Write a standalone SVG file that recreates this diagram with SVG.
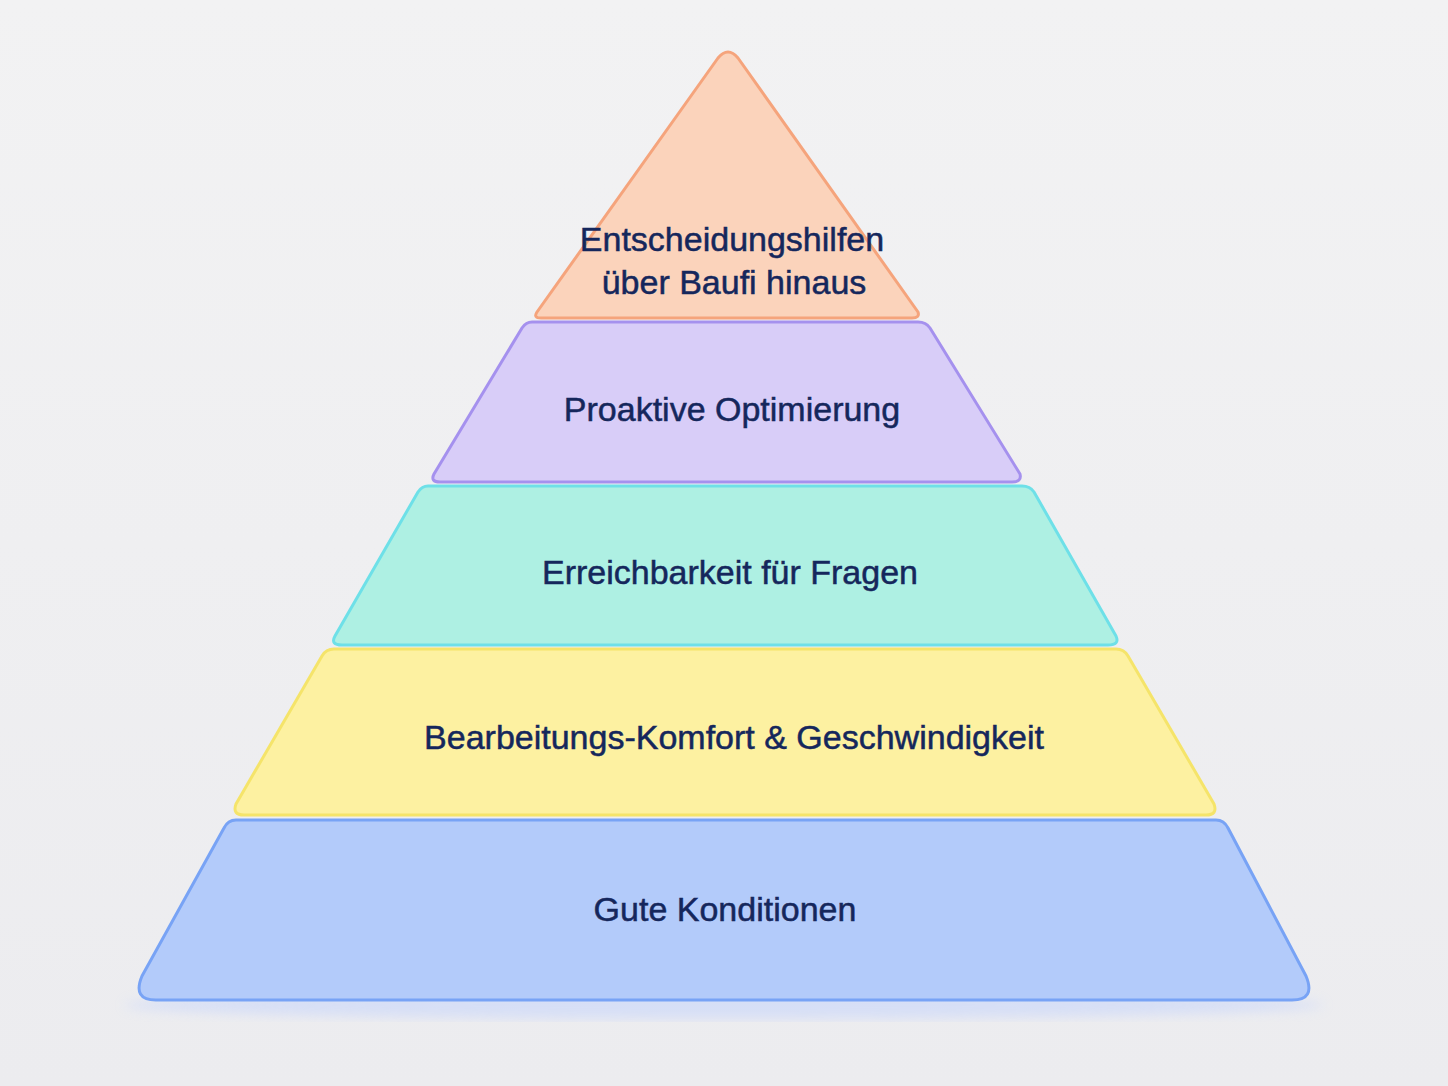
<svg xmlns="http://www.w3.org/2000/svg" width="1448" height="1086" viewBox="0 0 1448 1086">
<defs>
<style>
.l{stroke-width:3;stroke-linejoin:round}
.t{font-family:"Liberation Sans",Arial,sans-serif;font-size:34px;fill:#15275c;stroke:#15275c;stroke-width:0.5;text-anchor:middle;letter-spacing:0}
</style>
<filter id="g" x="-10%" y="-10%" width="120%" height="120%"><feGaussianBlur stdDeviation="6"/></filter>
<linearGradient id="bg" x1="0" y1="0" x2="0" y2="1"><stop offset="0" stop-color="#f2f2f3"/><stop offset="1" stop-color="#ececef"/></linearGradient>
</defs>
<rect width="1448" height="1086" fill="url(#bg)"/>
<ellipse cx="724" cy="1005" rx="600" ry="14" fill="#c8d6fb" opacity="0.6" filter="url(#g)"/>
<g id="layer1">
<path class="l" d="M718,58 Q728,46 738,58 L918,312 Q920,318 912,318 L541,318 Q533,318 537,312 Z" fill="#fbd3bb" stroke="#f5a47c"/>
<text class="t" x="732" y="251">Entscheidungshilfen</text>
<text class="t" x="734" y="294">über Baufi hinaus</text>
</g>
<g id="layer2">
<path class="l" d="M532,322 L918,322 Q926,322 930,328 L1020,474 Q1022,482 1012,482 L440,482 Q430,482 434,474 L522,328 Q526,322 532,322 Z" fill="#d8cdf8" stroke="#a591ee"/>
<text class="t" x="732" y="421">Proaktive Optimierung</text>
</g>
<g id="layer3">
<path class="l" d="M428,486 L1022,486 Q1030,486 1034,492 L1116,636 Q1120,645 1108,645 L342,645 Q330,645 335,636 L418,492 Q422,486 428,486 Z" fill="#aef0e3" stroke="#6ee0e8"/>
<text class="t" x="730" y="584">Erreichbarkeit für Fragen</text>
</g>
<g id="layer4">
<path class="l" d="M334,649 L1116,649 Q1124,649 1128,656 L1214,804 Q1218,815 1206,815 L244,815 Q232,815 236,804 L322,656 Q326,649 334,649 Z" fill="#fdf1a1" stroke="#f5e46a"/>
<text class="t" x="734" y="749">Bearbeitungs-Komfort &amp; Geschwindigkeit</text>
</g>
<g id="layer5">
<path class="l" d="M236,820 L1216,820 Q1224,820 1228,828 L1306,976 Q1316,1000 1292,1000 L156,1000 Q132,1000 142,976 L224,828 Q228,820 236,820 Z" fill="#b3cbfa" stroke="#78a3f5"/>
<text class="t" x="725" y="921">Gute Konditionen</text>
</g>
</svg>
